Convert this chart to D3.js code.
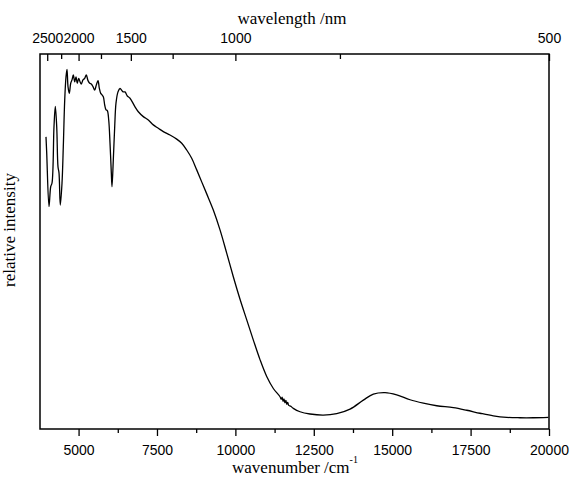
<!DOCTYPE html>
<html>
<head>
<meta charset="utf-8">
<script src="https://cdn.jsdelivr.net/npm/d3@7"></script>
<style>
  body { margin: 0; background: #fff; }
  svg { display: block; }
</style>
</head>
<body>
<svg id="chart" width="572" height="488"></svg>
<script>
// spectrum: wavenumber (cm-1) and relative intensity (0..1 of the frame)
var wavenumber = [
  3961, 3984, 4057, 4111, 4153, 4216, 4258, 4303, 4344, 4376, 4417, 4472, 4513, 4558, 4599, 4631,
  4663, 4704, 4749, 4790, 4832, 4877, 4918, 4959, 5004, 5046, 5087, 5141, 5195, 5246, 5301, 5355,
  5406, 5460, 5514, 5565, 5620, 5661, 5706, 5747, 5789, 5833, 5875, 5916, 5961, 6002, 6044, 6066,
  6107, 6152, 6193, 6257, 6321, 6417, 6480, 6554, 6640, 6800, 6905, 7064, 7224, 7383, 7542, 7702,
  7915, 8129, 8289, 8448, 8607, 8767, 8926, 9086, 9296, 9510, 9723, 9934, 10148, 10362, 10573, 10785,
  10999, 11210, 11423, 11460, 11490, 11520, 11550, 11580, 11610, 11640, 11670, 11700, 11760, 11847, 12061, 12380,
  12804, 13231, 13656, 14080, 14399, 14772, 15145, 15569, 15993, 16420, 16950, 17377, 17801, 18225, 18652, 19076,
  19501, 19979
];
var intensity = [
  0.779, 0.736, 0.593, 0.646, 0.656, 0.806, 0.860, 0.806, 0.699, 0.683, 0.597, 0.656, 0.753, 0.877, 0.939, 0.959,
  0.913, 0.895, 0.922, 0.931, 0.944, 0.926, 0.939, 0.922, 0.935, 0.926, 0.920, 0.931, 0.935, 0.944, 0.929, 0.922,
  0.920, 0.913, 0.904, 0.917, 0.929, 0.909, 0.895, 0.891, 0.886, 0.864, 0.851, 0.849, 0.824, 0.763, 0.683, 0.646,
  0.717, 0.806, 0.869, 0.899, 0.908, 0.899, 0.899, 0.888, 0.882, 0.859, 0.846, 0.833, 0.824, 0.811, 0.802, 0.793,
  0.784, 0.773, 0.762, 0.744, 0.722, 0.691, 0.659, 0.627, 0.584, 0.531, 0.469, 0.406, 0.346, 0.291, 0.237, 0.185,
  0.140, 0.108, 0.086, 0.079, 0.085, 0.074, 0.080, 0.070, 0.076, 0.066, 0.071, 0.063, 0.061, 0.055, 0.046, 0.040,
  0.037, 0.041, 0.053, 0.077, 0.093, 0.097, 0.091, 0.078, 0.069, 0.062, 0.057, 0.050, 0.042, 0.035, 0.031, 0.030,
  0.030, 0.031
];

var wnMajor = [5000, 7500, 10000, 12500, 15000, 17500, 20000];
var wnMinor = [6250, 8750, 11250, 13750, 16250, 18750];
var nmMajor = [2500, 2000, 1500, 1000, 500];
var nmMinor = [2250, 1750, 1250, 750];

var data = wavenumber.map(function (w, i) {
    return { wn: w, v: intensity[i] };
});

margin = ({ top: 54, right: 23, bottom: 59, left: 40 })
width = 572;
height = 488;

x = d3.scaleLinear()
    .domain([3770, 20000])
    .range([margin.left, width - margin.right])

y = d3.scaleLinear()
    .domain([0, 1])
    .range([height - margin.bottom, margin.top])

const svg = d3.select("#chart");

// bottom axis: wavenumber
svg.append("g")
    .attr("transform", `translate(0,${height - margin.bottom})`)
    .call(d3.axisBottom(x).tickValues(wnMinor).tickSize(4).tickFormat(""))
    .call(g => g.select(".domain").remove());

svg.append("g")
    .attr("class", "tick-labels")
    .attr("transform", `translate(0,${height - margin.bottom})`)
    .call(d3.axisBottom(x).tickValues(wnMajor).tickSize(7).tickPadding(9).tickFormat(d => d))
    .call(g => g.select(".domain").remove());

// top axis: wavelength, ticks point into the frame
svg.append("g")
    .attr("transform", `translate(0,${margin.top})`)
    .call(d3.axisTop(x).tickValues(nmMinor.map(l => 1e7 / l)).tickSize(-5).tickFormat(""))
    .call(g => g.select(".domain").remove());

svg.append("g")
    .attr("class", "tick-labels")
    .attr("transform", `translate(0,${margin.top})`)
    .call(d3.axisTop(x).tickValues(nmMajor.map(l => 1e7 / l)).tickSize(-7).tickPadding(11)
        .tickFormat(d => Math.round(1e7 / d)))
    .call(g => g.select(".domain").remove());

svg.selectAll(".tick line").attr("stroke", "#000").attr("stroke-width", 1.3);
svg.selectAll(".tick-labels text")
    .attr("font-family", "'Liberation Sans', Arial, sans-serif")
    .attr("font-size", 14)
    .attr("fill", "#000");

// spectrum
line = d3.line()
    .x(d => x(d.wn))
    .y(d => y(d.v))
    .curve(d3.curveCatmullRom.alpha(0.5))

svg.append("path")
    .datum(data)
    .attr("fill", "none")
    .attr("stroke", "#000")
    .attr("stroke-width", 1.3)
    .attr("stroke-linejoin", "round")
    .attr("d", line);

// frame
svg.append("rect")
    .attr("x", margin.left)
    .attr("y", margin.top)
    .attr("width", width - margin.right - margin.left)
    .attr("height", height - margin.bottom - margin.top)
    .attr("fill", "none")
    .attr("stroke", "#000")
    .attr("stroke-width", 1.5);

// titles
var serif = "'Liberation Serif', 'Times New Roman', serif";

svg.append("text")
    .attr("x", 292)
    .attr("y", 24)
    .attr("text-anchor", "middle")
    .attr("font-family", serif)
    .attr("font-size", 17)
    .text("wavelength /nm");

var xt = svg.append("text")
    .attr("x", 295)
    .attr("y", 473)
    .attr("text-anchor", "middle")
    .attr("font-family", serif)
    .attr("font-size", 17);
xt.append("tspan").text("wavenumber /cm");
xt.append("tspan").attr("font-size", 10).attr("dy", -10).text("-1");

svg.append("text")
    .attr("transform", "translate(15,230) rotate(-90)")
    .attr("text-anchor", "middle")
    .attr("font-family", serif)
    .attr("font-size", 17)
    .text("relative intensity");
</script>
</body>
</html>
